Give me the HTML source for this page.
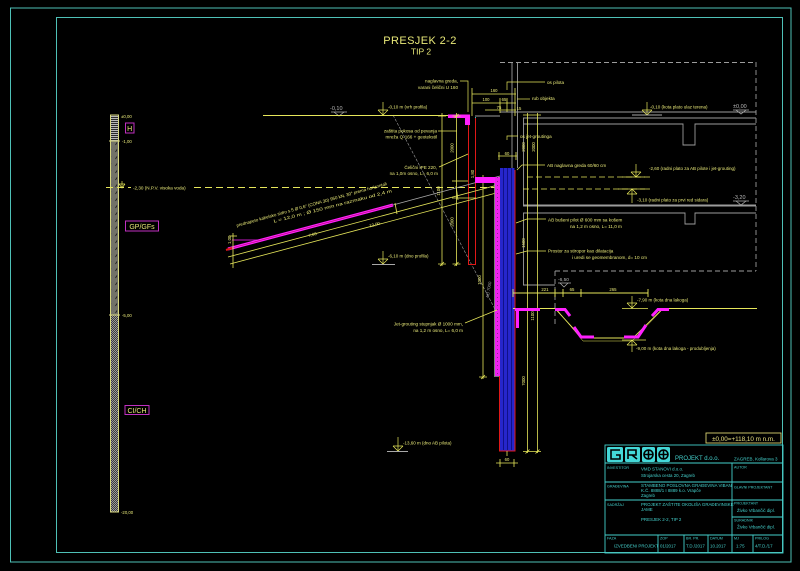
<!DOCTYPE html>
<html><head><meta charset="utf-8">
<style>
html,body{margin:0;padding:0;background:#000;}
svg{display:block;}
text{font-family:"Liberation Sans",sans-serif;}
</style></head><body>
<svg width="800" height="571" viewBox="0 0 800 571" xmlns="http://www.w3.org/2000/svg">
<defs>
<pattern id="ph" width="4" height="2" patternUnits="userSpaceOnUse"><rect width="4" height="2" fill="#2a2a2a"/><rect width="4" height="1" fill="#b8b8b8"/></pattern>
<pattern id="pd" width="6" height="7" patternUnits="userSpaceOnUse"><rect width="6" height="7" fill="#727268"/><path d="M1.5 5 L3 2.5" stroke="#1a1a1a" stroke-width="0.8"/></pattern>
<pattern id="pc" width="2" height="2" patternUnits="userSpaceOnUse"><rect width="2" height="2" fill="#3c3c3c"/><rect width="1" height="1" fill="#9a9a9a"/><rect x="1" y="1" width="1" height="1" fill="#9a9a9a"/></pattern>
<pattern id="pm" width="4" height="4" patternUnits="userSpaceOnUse"><rect width="4" height="4" fill="#ee22ee"/><rect x="1" y="1" width="1" height="1" fill="#902090"/></pattern>
</defs>
<rect width="800" height="571" fill="#000"/>

<!-- borders -->
<rect x="10.5" y="8" width="780.5" height="554" fill="none" stroke="#4ec0b6" stroke-width="1"/>
<rect x="56.5" y="17.5" width="726" height="535" fill="none" stroke="#4ec0b6" stroke-width="1"/>

<!-- title -->
<text x="420" y="44" font-size="11" fill="#e8e878" text-anchor="middle" letter-spacing="0.4">PRESJEK 2-2</text>
<text x="421" y="54.5" font-size="8.5" fill="#e8e878" text-anchor="middle">TIP 2</text>

<!-- soil column -->
<rect x="111" y="115" width="7" height="26" fill="url(#ph)"/>
<rect x="111" y="141" width="7" height="174" fill="url(#pd)"/>
<rect x="111" y="315" width="7" height="197" fill="url(#pc)"/>
<rect x="110.5" y="115" width="8" height="397" fill="none" stroke="#d8d880" stroke-width="1"/>
<line x1="109" y1="141" x2="120" y2="141" stroke="#d8d880"/>
<line x1="109" y1="315" x2="120" y2="315" stroke="#d8d880"/>
<g font-size="4.3" fill="#e8e878">
<text x="121" y="118">±0,00</text>
<text x="122" y="143">-1,00</text>
<text x="122" y="317">-5,00</text>
<text x="121" y="514">-20,00</text>
</g>
<rect x="125.5" y="123" width="8.5" height="10" fill="none" stroke="#c030c0" stroke-width="1"/>
<text x="129.7" y="131" font-size="7" fill="#e8e878" text-anchor="middle">H</text>
<rect x="125.5" y="221" width="33" height="10" fill="none" stroke="#c030c0" stroke-width="1"/>
<text x="142" y="229" font-size="7" fill="#e8e878" text-anchor="middle">GP/GFs</text>
<rect x="125" y="405.5" width="24" height="9" fill="none" stroke="#c030c0" stroke-width="1"/>
<text x="137" y="413" font-size="7" fill="#e8e878" text-anchor="middle">CI/CH</text>

<!-- water line -->
<line x1="106" y1="187.5" x2="512" y2="187.5" stroke="#e6e65a" stroke-width="0.9" stroke-dasharray="7,4"/>
<rect x="131" y="184" width="63" height="7" fill="#000"/>
<path d="M122 181 V188 M119 184 H125 M119 184 L122 188 L125 184" stroke="#e6e65a" stroke-width="0.7" fill="none"/>
<text x="133" y="189.5" font-size="4.6" fill="#e8e878">-2,30 (N.P.V. visoka voda)</text>

<!-- building outline (gray) -->
<g stroke="#9c9c9c" stroke-width="0.9" fill="none">
<line x1="500" y1="62.5" x2="756" y2="62.5" stroke-dasharray="5,3"/>
<line x1="756" y1="62" x2="756" y2="271" stroke-dasharray="5,3"/>
<line x1="555" y1="271" x2="756" y2="271" stroke-dasharray="5,3"/>
<line x1="555" y1="271" x2="555" y2="325" stroke-dasharray="5,3"/>
<line x1="512" y1="62" x2="512" y2="168"/>
<line x1="517.5" y1="62" x2="517.5" y2="168"/>
<line x1="523.5" y1="118" x2="523.5" y2="206"/>
<line x1="523.5" y1="213" x2="523.5" y2="285"/>
<line x1="500" y1="112" x2="756" y2="112"/>
<line x1="523" y1="118" x2="756" y2="118"/>
<path d="M523 124 H683 V145 H695 V124 H756"/>
<line x1="523" y1="205.5" x2="756" y2="205.5" stroke-width="2"/>
<path d="M523 213 H685 V224 H695 V213 H756"/>
<line x1="523" y1="285" x2="555" y2="285"/>
<line x1="475" y1="116" x2="500" y2="116"/>
</g>

<!-- gray elevation symbols -->
<g fill="none" stroke="#b0b0b0" stroke-width="0.7">
<path d="M331 112 H347 M334 112 L339 116 L344 112"/>
<path d="M733 110 H749 M736 110 L741 114 L746 110"/>
<path d="M733 201 H749 M736 201 L741 205 L746 201"/>
<path d="M558 283 H571 M560 283 L564 287 L568 283"/>
</g>
<g font-size="5.5" fill="#b8b8b8">
<text x="330" y="110">-0,10</text>
<text x="733" y="108">±0,00</text>
<text x="733" y="199">-3,20</text>
<text x="558" y="281" font-size="4.8">-6,50</text>
</g>

<!-- slanted gray dashed line -->
<line x1="393" y1="115" x2="497" y2="313" stroke="#a0a0a0" stroke-width="0.6" stroke-dasharray="3,1.5"/>

<!-- ground line left -->
<line x1="263" y1="115.5" x2="448" y2="115.5" stroke="#e6e65a" stroke-width="1"/>

<!-- soldier pile wall (left) -->
<path d="M448 114.5 H470 V125 H465 V118 H448 Z" fill="#ff20ff"/>
<line x1="475.5" y1="117" x2="475.5" y2="121" stroke="#30c8c8" stroke-width="1"/>
<g stroke="#e01818" stroke-width="1" fill="none">
<path d="M468.5 125 V264.5 H475.5 V118"/>
</g>

<!-- yellow dims left -->
<g stroke="#e6e65a" stroke-width="0.8" fill="none">
<line x1="442" y1="113" x2="442" y2="266"/>
<line x1="456.5" y1="113" x2="456.5" y2="266"/>
<path d="M438 264 H446 M452.5 264 H460.5 M438 116 H446 M452.5 116 H460.5"/>
<path d="M440 266 L444 262 M454.5 266 L458.5 262 M454.5 118 L458.5 114"/>
<line x1="483" y1="175" x2="483" y2="379"/>
<path d="M479 377 H487 M481 379 L485 375"/>
<line x1="527.5" y1="113" x2="527.5" y2="453"/>
<line x1="537.5" y1="113" x2="537.5" y2="453"/>
<path d="M523 451.5 H541 M525.5 453.5 L529.5 449.5 M535.5 453.5 L539.5 449.5"/>
<path d="M523 115 H541"/>
<line x1="452" y1="181" x2="468" y2="181"/>
<line x1="452" y1="198" x2="476" y2="198"/>
</g>
<g font-size="4.3" fill="#e8e878" text-anchor="middle">
<text transform="translate(453.5,148) rotate(-90)">2000</text>
<text transform="translate(453.5,222) rotate(-90)">2000</text>
<text transform="translate(440,191) rotate(-90)">1100</text>
<text transform="translate(474,174) rotate(-90)">1,80</text>
<text transform="translate(481,280) rotate(-90)">1000</text>
<text transform="translate(525,147) rotate(-90)">2000</text>
<text transform="translate(535,147) rotate(-90)">2000</text>
<text transform="translate(525,243) rotate(-90)">1500</text>
<text transform="translate(525,381) rotate(-90)">7000</text>
<text transform="translate(534,316) rotate(-90)">1100</text>
</g>
<text transform="translate(490,290) rotate(-80)" font-size="4.3" fill="#a0a0a0" text-anchor="middle">AB 7000</text>

<!-- anchor -->
<line x1="393" y1="205" x2="500" y2="176" stroke="#a8a8a8" stroke-width="0.9"/>
<line x1="228" y1="249" x2="393" y2="205" stroke="#ff20ff" stroke-width="3"/>
<line x1="228" y1="249" x2="393" y2="205" stroke="#b01060" stroke-width="0.6"/>
<line x1="226" y1="250" x2="232" y2="248" stroke="#e01818" stroke-width="2"/>
<line x1="232" y1="240" x2="258" y2="240" stroke="#ff20ff" stroke-width="0.8"/>
<g stroke="#e6e65a" stroke-width="0.8">
<line x1="228" y1="257" x2="500" y2="184.4"/>
<line x1="230" y1="264" x2="500" y2="192"/>
<line x1="233" y1="233" x2="233" y2="268"/>
<line x1="395" y1="203" x2="397" y2="214"/>
<line x1="456" y1="186" x2="458" y2="200"/>
<line x1="229" y1="236" x2="237" y2="236"/>
</g>
<g font-size="4.3" fill="#e8e878">
<text transform="translate(231,244) rotate(-90)">1,00</text>
<text transform="translate(313,236) rotate(-15)" text-anchor="middle">7,00</text>
<text transform="translate(375,226) rotate(-15)" text-anchor="middle">12,00</text>
</g>
<g font-size="4.4" fill="#e8e878" text-anchor="middle">
<text transform="translate(312,206) rotate(-15.6)" textLength="156" lengthAdjust="spacingAndGlyphs">prednapeto kabelsko sidro s 5 Ø 0,6" (CONA 30) 950 kN, 30° prema horizontali</text>
<text transform="translate(333,207.5) rotate(-14.5)" textLength="122" lengthAdjust="spacingAndGlyphs">L = 12,0 m ; Ø 150 mm na razmaku od 2,4 m</text>
</g>

<!-- jet grout + pile -->
<path d="M475 177 H500 V183 H475 Z" fill="#ff20ff"/>
<rect x="495" y="177" width="5" height="199" fill="url(#pm)"/>
<path d="M494.5 183 V376.5 H504" stroke="#9c9c9c" stroke-width="0.8" fill="none"/>
<rect x="500" y="168" width="14.5" height="282.5" fill="#2626cc"/>
<g stroke="#10108a" stroke-width="1">
<line x1="503.5" y1="168" x2="503.5" y2="450"/>
<line x1="507.5" y1="168" x2="507.5" y2="450"/>
<line x1="511.5" y1="168" x2="511.5" y2="450"/>
</g>
<path d="M499.5 376 V451 H515 V170" stroke="#e01818" stroke-width="1" fill="none"/>
<g stroke="#e6e65a" stroke-width="0.8" fill="none">
<path d="M500 463 H514 M496 463 H518 M500 459 V467 M514 459 V467 M507 451 V456"/>
<path d="M472 88 V116 M472 94 H516 M472 103 H516 M500 98 V106 M507 98 V112 M515 88 V116 M485 110 H516 M500 106 V113"/>
<path d="M498 156 H517 M499 152 V160 M516 152 V160"/>
</g>
<g font-size="4.2" fill="#e8e878" text-anchor="middle">
<text x="507" y="461">60</text>
<text x="494" y="92">160</text>
<text x="486" y="101">100</text>
<text x="504" y="101">65</text>
<text x="499" y="109">75</text>
<text x="519" y="110">15</text>
<text x="507" y="155">60</text>
</g>

<!-- leaders -->
<g stroke="#e6e65a" stroke-width="0.7" fill="none">
<path d="M460 81 H468 V112"/>
<path d="M438 131 H457"/>
<path d="M439 167 L468 154"/>
<path d="M465 323 L497 310"/>
<path d="M507 90 V82 H545"/>
<path d="M517 99 H530"/>
<path d="M507 140 V136 H518"/>
<path d="M517 170 L522 165 H545"/>
<path d="M516 223 L527 219 H546"/>
<path d="M516 254 L527 251 H546"/>
</g>
<g font-size="4.6" fill="#e8e878">
<text x="458" y="82.5" text-anchor="end">naglavna greda,</text>
<text x="458" y="89" text-anchor="end">varani čelični U 160</text>
<text x="437" y="132.5" text-anchor="end">zaštita pokosa od pevanja</text>
<text x="437" y="138.5" text-anchor="end">mreža Q-166 + geotekstil</text>
<text x="437" y="169" text-anchor="end">Čelični IPE 220,</text>
<text x="438" y="175" text-anchor="end">na 1,0m osno, L= 6,0 m</text>
<text x="463" y="325.5" text-anchor="end">Jet-grouting stupnjak Ø 1000 mm,</text>
<text x="463" y="332" text-anchor="end">na 1,2 m osno, L= 6,0 m</text>
<text x="547" y="84">os pilota</text>
<text x="532" y="100">rub objekta</text>
<text x="520" y="138">os jet-groutinga</text>
<text x="547" y="167">AB naglavna greda 60/60 cm</text>
<text x="548" y="221.5">AB bušeni pilot Ø 600 mm sa košem</text>
<text x="570" y="228">na 1,2 m osno, L= 11,0 m</text>
<text x="548" y="252.5">Prostor za stiropor kao dilatacija</text>
<text x="572" y="259">i uredi se geomembranom, d= 10 cm</text>
</g>

<!-- elevation markers yellow -->
<g stroke="#e6e65a" stroke-width="0.7" fill="none">
<path d="M383 102 V115.5 M378 110 H388 M378 110 L383 115 L388 110"/>
<path d="M383 251 V264 M378 259 H388 M378 259 L383 264 L388 259"/>
<path d="M398 437 V451 M393 446 H403 M393 446 L398 451 L403 446"/>
<path d="M647 102 V115 M642 110 H652 M642 110 L647 115 L652 110 M632 115 H662"/>
<path d="M636 164 V177 M631 172 H641 M631 172 L636 177 L641 172 M622 177 H650"/>
<path d="M632 189 V203 M627 194 H637 M627 194 L632 189 L637 194 M618 189 H650"/>
<path d="M632 296 V308 M627 303 H637 M627 303 L632 308 L637 303 M622 308.5 H648"/>
<path d="M632 340 V352 M627 345 H637 M627 345 L632 340 L637 345 M622 340 H646"/>
</g>
<g stroke="#a8a8a8" stroke-width="0.9">
<line x1="372" y1="264.5" x2="395" y2="264.5"/>
<line x1="387" y1="451.5" x2="408" y2="451.5"/>
<line x1="632" y1="115" x2="662" y2="115"/>
</g>
<line x1="527" y1="177" x2="645" y2="177" stroke="#e6e65a" stroke-width="0.8" stroke-dasharray="6,3"/>
<line x1="523" y1="189" x2="645" y2="189" stroke="#e6e65a" stroke-width="0.8" stroke-dasharray="6,3"/>
<g font-size="4.5" fill="#e8e878">
<text x="388" y="108.5">-0,10 m (vrh profila)</text>
<text x="388" y="257.5">-6,10 m (dno profila)</text>
<text x="403" y="444.5">-13,60 m (dno AB pilota)</text>
<text x="650" y="108.5">-0,10 (kota plato ulaz terena)</text>
<text x="649" y="170">-2,60 (radni plato za AB pilote i jet-grouting)</text>
<text x="637" y="201.5">-3,10 (radni plato za prvi red sidara)</text>
<text x="637" y="301.5">-7,90 m (kota dna lakoga)</text>
<text x="636" y="350">-9,00 m (kota dna lakoga - produbljenja)</text>
</g>

<!-- base + channel -->
<g stroke="#e6e65a" stroke-width="0.9" fill="none">
<path d="M513 308.5 H555 L582 338 H633 L663 308.5 H757"/>
<path d="M558 311 L583 341 H632 L661 311" stroke-width="0.5"/>
<path d="M513 293 H648 M513 289 V297 M555 289 V297 M563 289 V297 M581 289 V297 M648 289 V297"/>
</g>
<g font-size="4.3" fill="#e8e878" text-anchor="middle">
<text x="545" y="291">221</text>
<text x="572" y="291">65</text>
<text x="613" y="291">265</text>
</g>
<g fill="none" stroke="#ff20ff" stroke-width="3">
<path d="M515 309.5 H540"/>
<path d="M517.5 309 V328"/>
<path d="M555 309.5 H565 L570 316"/>
<path d="M574 327 L581 337 H594"/>
<path d="M624 337 H638 L646 325"/>
<path d="M652 316 L658 309.5 H669"/>
</g>

<!-- title block -->
<rect x="706" y="433" width="75" height="10" fill="none" stroke="#d8d070" stroke-width="0.9"/>
<text x="743.5" y="440.8" font-size="6.3" fill="#e8e080" text-anchor="middle">±0,00=+118,10 m n.m.</text>
<g stroke="#44d0cc" stroke-width="0.9" fill="none">
<rect x="605" y="445" width="178" height="108"/>
<line x1="605" y1="463" x2="783" y2="463"/>
<line x1="605" y1="482" x2="783" y2="482"/>
<line x1="605" y1="500" x2="783" y2="500"/>
<line x1="605" y1="535" x2="783" y2="535"/>
<line x1="732" y1="463" x2="732" y2="553"/>
<line x1="732" y1="517" x2="783" y2="517"/>
<line x1="658" y1="535" x2="658" y2="553"/>
<line x1="684" y1="535" x2="684" y2="553"/>
<line x1="708" y1="535" x2="708" y2="553"/>
<line x1="753" y1="535" x2="753" y2="553"/>
</g>
<!-- logo -->
<g fill="#44d8d8">
<rect x="607" y="447" width="16" height="15" rx="1.5"/>
<rect x="625" y="447" width="15" height="15" rx="1.5"/>
<rect x="642" y="447" width="13" height="15" rx="1.5"/>
<rect x="657" y="447" width="13" height="15" rx="1.5"/>
</g>
<g fill="none" stroke="#000" stroke-width="1.6">
<path d="M620 450 H611 V459 H620 V455 H616"/>
<path d="M628 459 V450 H636 V455 H628 M632 455 L637 459"/>
<circle cx="648.5" cy="454.5" r="4.5"/>
<path d="M648.5 450 V459 M644 454.5 H653"/>
<circle cx="663.5" cy="454.5" r="4.5"/>
<path d="M663.5 450 V459 M659 454.5 H668"/>
</g>
<text x="675" y="460" font-size="6" fill="#44d0cc">PROJEKT d.o.o.</text>
<text x="734" y="460.5" font-size="4.5" fill="#44d0cc">ZAGREB, Kollarova 3</text>
<g font-size="3.7" fill="#44d0cc">
<text x="607" y="469">INVESTITOR</text>
<text x="734" y="468.5">AUTOR</text>
<text x="607" y="487.5">GRAĐEVINA</text>
<text x="734" y="488.5">GLAVNI PROJEKTANT</text>
<text x="607" y="506">SADRŽAJ</text>
<text x="734" y="504.5">PROJEKTANT</text>
<text x="734" y="521.5">SURADNIK</text>
<text x="607" y="539.5">FAZA</text>
<text x="660" y="539.5">ZOP</text>
<text x="686" y="539.5">BR. PR.</text>
<text x="710" y="539.5">DATUM</text>
<text x="734" y="539.5">MJ</text>
<text x="755" y="539.5">PRILOG</text>
</g>
<g font-size="4.4" fill="#44d0cc">
<text x="641" y="470.5">VMD STANOVI d.o.o.</text>
<text x="641" y="477">Strojarska cesta 20, Zagreb</text>
<text x="641" y="487">STAMBENO POSLOVNA GRAĐEVINA VIBAN</text>
<text x="641" y="492">K.Č. 8888/1 I 8889 k.o. Vrapče</text>
<text x="641" y="497">Zagreb</text>
<text x="641" y="506">PROJEKT ZAŠTITE OKOLIŠA GRAĐEVINSKE</text>
<text x="641" y="511">JAME</text>
<text x="641" y="521">PRESJEK 2-2, TIP 2</text>
<text x="737" y="512">Živko Vrbančić dipl.</text>
<text x="737" y="528.5">Živko Vrbančić dipl.</text>
<text x="614" y="547.5">IZVEDBENI PROJEKT</text>
<text x="660" y="547.5">01/2017</text>
<text x="686" y="547.5">T.D./2017</text>
<text x="710" y="547.5">10.2017</text>
<text x="736" y="547.5">1:75</text>
<text x="755" y="547.5">4/T.D./17</text>
</g>
</svg>
</body></html>
